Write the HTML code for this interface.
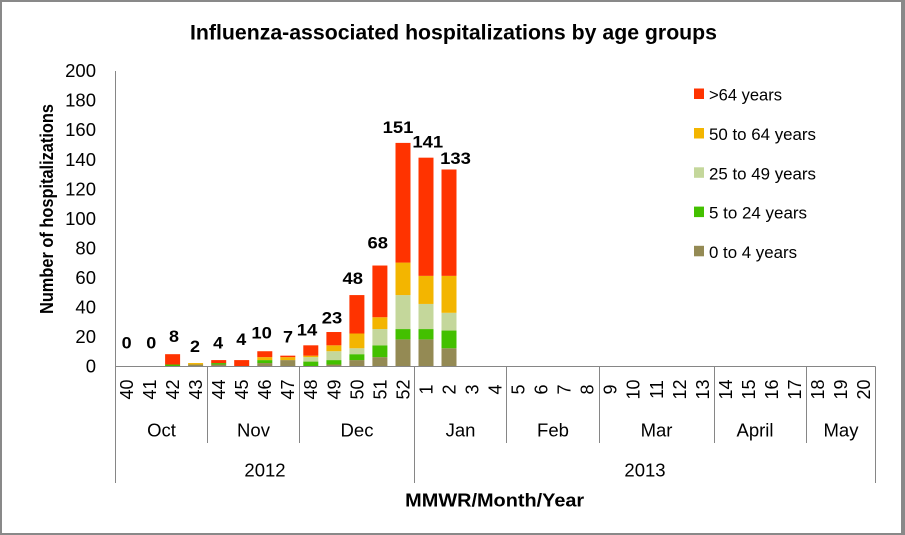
<!DOCTYPE html>
<html>
<head>
<meta charset="utf-8">
<style>
  html,body{margin:0;padding:0;background:#fff;}
  svg{display:block;}
  text{font-family:"Liberation Sans", sans-serif; fill:#000;}
</style>
</head>
<body>
<svg width="905" height="535" viewBox="0 0 905 535" xmlns="http://www.w3.org/2000/svg">
  <!-- border -->
  <rect x="0" y="0" width="905" height="535" fill="#898989"/>
  <rect x="2" y="2" width="899" height="531" fill="#ffffff"/>

  <!-- title -->
  <text x="190" y="39.5" font-size="21" font-weight="bold" textLength="527" lengthAdjust="spacingAndGlyphs">Influenza-associated hospitalizations by age groups</text>

  <!-- y axis title -->
  <text transform="translate(53,209) rotate(-90)" text-anchor="middle" font-size="18" font-weight="bold" textLength="210" lengthAdjust="spacingAndGlyphs">Number of hospitalizations</text>

  <!-- y tick labels -->
  <g font-size="18.5" text-anchor="end">
    <text x="96" y="77.1">200</text>
    <text x="96" y="106.7">180</text>
    <text x="96" y="136.2">160</text>
    <text x="96" y="165.8">140</text>
    <text x="96" y="195.3">120</text>
    <text x="96" y="224.9">100</text>
    <text x="96" y="254.4">80</text>
    <text x="96" y="284.0">60</text>
    <text x="96" y="313.5">40</text>
    <text x="96" y="343.1">20</text>
    <text x="96" y="372.6">0</text>
  </g>

  <!-- axes -->
  <g stroke="#868686" stroke-width="1" fill="none">
    <line x1="115.5" y1="71" x2="115.5" y2="483"/>
    <line x1="115" y1="366.5" x2="875.5" y2="366.5"/>
    <line x1="875.5" y1="366.5" x2="875.5" y2="483"/>
    <line x1="414.5" y1="366.5" x2="414.5" y2="483"/>
    <line x1="207.5" y1="366.5" x2="207.5" y2="443"/>
    <line x1="299.5" y1="366.5" x2="299.5" y2="443"/>
    <line x1="506.5" y1="366.5" x2="506.5" y2="443"/>
    <line x1="599.5" y1="366.5" x2="599.5" y2="443"/>
    <line x1="714.5" y1="366.5" x2="714.5" y2="443"/>
    <line x1="806.5" y1="366.5" x2="806.5" y2="443"/>
  </g>

  <!-- bars -->
  <g>
    <!-- 42 -->
    <rect x="165.1" y="364.52" width="15" height="1.48" fill="#43C000"/>
    <rect x="165.1" y="354.18" width="15" height="10.34" fill="#FF3300"/>
    <!-- 43 -->
    <rect x="188.1" y="364.52" width="15" height="1.48" fill="#948A54"/>
    <rect x="188.1" y="363.05" width="15" height="1.48" fill="#F3B500"/>
    <!-- 44 -->
    <rect x="211.2" y="364.52" width="15" height="1.48" fill="#948A54"/>
    <rect x="211.2" y="363.05" width="15" height="1.48" fill="#43C000"/>
    <rect x="211.2" y="360.09" width="15" height="2.96" fill="#FF3300"/>
    <!-- 45 -->
    <rect x="234.2" y="360.09" width="15" height="5.91" fill="#FF3300"/>
    <!-- 46 -->
    <rect x="257.3" y="363.05" width="15" height="2.95" fill="#948A54"/>
    <rect x="257.3" y="360.09" width="15" height="2.96" fill="#43C000"/>
    <rect x="257.3" y="357.14" width="15" height="2.95" fill="#F3B500"/>
    <rect x="257.3" y="351.23" width="15" height="5.91" fill="#FF3300"/>
    <!-- 47 -->
    <rect x="280.3" y="360.09" width="15" height="5.91" fill="#948A54"/>
    <rect x="280.3" y="357.14" width="15" height="2.95" fill="#F3B500"/>
    <rect x="280.3" y="355.66" width="15" height="1.48" fill="#FF3300"/>
    <!-- 48 -->
    <rect x="303.3" y="361.57" width="15" height="4.43" fill="#43C000"/>
    <rect x="303.3" y="357.14" width="15" height="4.43" fill="#C4D79B"/>
    <rect x="303.3" y="355.66" width="15" height="1.48" fill="#F3B500"/>
    <rect x="303.3" y="345.32" width="15" height="10.34" fill="#FF3300"/>
    <!-- 49 -->
    <rect x="326.4" y="364.52" width="15" height="1.48" fill="#948A54"/>
    <rect x="326.4" y="360.09" width="15" height="4.43" fill="#43C000"/>
    <rect x="326.4" y="351.23" width="15" height="8.86" fill="#C4D79B"/>
    <rect x="326.4" y="345.32" width="15" height="5.91" fill="#F3B500"/>
    <rect x="326.4" y="332.02" width="15" height="13.3" fill="#FF3300"/>
    <!-- 50 -->
    <rect x="349.4" y="360.09" width="15" height="5.91" fill="#948A54"/>
    <rect x="349.4" y="354.18" width="15" height="5.91" fill="#43C000"/>
    <rect x="349.4" y="348.27" width="15" height="5.91" fill="#C4D79B"/>
    <rect x="349.4" y="333.5" width="15" height="14.77" fill="#F3B500"/>
    <rect x="349.4" y="295.08" width="15" height="38.42" fill="#FF3300"/>
    <!-- 51 -->
    <rect x="372.4" y="357.14" width="15" height="8.86" fill="#948A54"/>
    <rect x="372.4" y="345.32" width="15" height="11.82" fill="#43C000"/>
    <rect x="372.4" y="329.06" width="15" height="16.26" fill="#C4D79B"/>
    <rect x="372.4" y="317.24" width="15" height="11.82" fill="#F3B500"/>
    <rect x="372.4" y="265.53" width="15" height="51.71" fill="#FF3300"/>
    <!-- 52 -->
    <rect x="395.5" y="339.4" width="15" height="26.6" fill="#948A54"/>
    <rect x="395.5" y="329.06" width="15" height="10.34" fill="#43C000"/>
    <rect x="395.5" y="295.08" width="15" height="33.98" fill="#C4D79B"/>
    <rect x="395.5" y="262.58" width="15" height="32.5" fill="#F3B500"/>
    <rect x="395.5" y="142.9" width="15" height="119.68" fill="#FF3300"/>
    <!-- 1 -->
    <rect x="418.5" y="339.4" width="15" height="26.6" fill="#948A54"/>
    <rect x="418.5" y="329.06" width="15" height="10.34" fill="#43C000"/>
    <rect x="418.5" y="303.95" width="15" height="25.11" fill="#C4D79B"/>
    <rect x="418.5" y="275.87" width="15" height="28.08" fill="#F3B500"/>
    <rect x="418.5" y="157.67" width="15" height="118.2" fill="#FF3300"/>
    <!-- 2 -->
    <rect x="441.5" y="348.27" width="15" height="17.73" fill="#948A54"/>
    <rect x="441.5" y="330.54" width="15" height="17.73" fill="#43C000"/>
    <rect x="441.5" y="312.81" width="15" height="17.73" fill="#C4D79B"/>
    <rect x="441.5" y="275.87" width="15" height="36.94" fill="#F3B500"/>
    <rect x="441.5" y="169.49" width="15" height="106.38" fill="#FF3300"/>
  </g>

  <!-- data labels -->
  <g font-size="17" font-weight="bold" text-anchor="middle">
    <text x="126.7" y="348.4" textLength="10" lengthAdjust="spacingAndGlyphs">0</text>
    <text x="151.3" y="348.4" textLength="10" lengthAdjust="spacingAndGlyphs">0</text>
    <text x="174" y="341.9" textLength="10" lengthAdjust="spacingAndGlyphs">8</text>
    <text x="195" y="351.9" textLength="10" lengthAdjust="spacingAndGlyphs">2</text>
    <text x="218.2" y="348.4" textLength="10" lengthAdjust="spacingAndGlyphs">4</text>
    <text x="241.3" y="344.9" textLength="10" lengthAdjust="spacingAndGlyphs">4</text>
    <text x="261.7" y="338.6" textLength="20.5" lengthAdjust="spacingAndGlyphs">10</text>
    <text x="288" y="342.6" textLength="10" lengthAdjust="spacingAndGlyphs">7</text>
    <text x="307" y="335.4" textLength="20.5" lengthAdjust="spacingAndGlyphs">14</text>
    <text x="332" y="323.7" textLength="20.5" lengthAdjust="spacingAndGlyphs">23</text>
    <text x="352.8" y="284.2" textLength="20.5" lengthAdjust="spacingAndGlyphs">48</text>
    <text x="377.8" y="248.4" textLength="20.5" lengthAdjust="spacingAndGlyphs">68</text>
    <text x="398" y="133.1" textLength="30.8" lengthAdjust="spacingAndGlyphs">151</text>
    <text x="427.8" y="147.6" textLength="30.8" lengthAdjust="spacingAndGlyphs">141</text>
    <text x="455.5" y="164.2" textLength="30.8" lengthAdjust="spacingAndGlyphs">133</text>
  </g>

  <!-- week labels (rotated) -->
  <g font-size="18" text-anchor="middle">
    <text transform="translate(126.5,389.5) rotate(-90)" y="6.4">40</text>
    <text transform="translate(149.6,389.5) rotate(-90)" y="6.4">41</text>
    <text transform="translate(172.6,389.5) rotate(-90)" y="6.4">42</text>
    <text transform="translate(195.6,389.5) rotate(-90)" y="6.4">43</text>
    <text transform="translate(218.7,389.5) rotate(-90)" y="6.4">44</text>
    <text transform="translate(241.7,389.5) rotate(-90)" y="6.4">45</text>
    <text transform="translate(264.8,389.5) rotate(-90)" y="6.4">46</text>
    <text transform="translate(287.8,389.5) rotate(-90)" y="6.4">47</text>
    <text transform="translate(310.8,389.5) rotate(-90)" y="6.4">48</text>
    <text transform="translate(333.9,389.5) rotate(-90)" y="6.4">49</text>
    <text transform="translate(356.9,389.5) rotate(-90)" y="6.4">50</text>
    <text transform="translate(379.9,389.5) rotate(-90)" y="6.4">51</text>
    <text transform="translate(403.0,389.5) rotate(-90)" y="6.4">52</text>
    <text transform="translate(426.0,389.5) rotate(-90)" y="6.4">1</text>
    <text transform="translate(449.0,389.5) rotate(-90)" y="6.4">2</text>
    <text transform="translate(472.1,389.5) rotate(-90)" y="6.4">3</text>
    <text transform="translate(495.1,389.5) rotate(-90)" y="6.4">4</text>
    <text transform="translate(518.1,389.5) rotate(-90)" y="6.4">5</text>
    <text transform="translate(541.2,389.5) rotate(-90)" y="6.4">6</text>
    <text transform="translate(564.2,389.5) rotate(-90)" y="6.4">7</text>
    <text transform="translate(587.3,389.5) rotate(-90)" y="6.4">8</text>
    <text transform="translate(610.3,389.5) rotate(-90)" y="6.4">9</text>
    <text transform="translate(633.3,389.5) rotate(-90)" y="6.4">10</text>
    <text transform="translate(656.4,389.5) rotate(-90)" y="6.4">11</text>
    <text transform="translate(679.4,389.5) rotate(-90)" y="6.4">12</text>
    <text transform="translate(702.4,389.5) rotate(-90)" y="6.4">13</text>
    <text transform="translate(725.5,389.5) rotate(-90)" y="6.4">14</text>
    <text transform="translate(748.5,389.5) rotate(-90)" y="6.4">15</text>
    <text transform="translate(771.5,389.5) rotate(-90)" y="6.4">16</text>
    <text transform="translate(794.6,389.5) rotate(-90)" y="6.4">17</text>
    <text transform="translate(817.6,389.5) rotate(-90)" y="6.4">18</text>
    <text transform="translate(840.6,389.5) rotate(-90)" y="6.4">19</text>
    <text transform="translate(863.7,389.5) rotate(-90)" y="6.4">20</text>
  </g>

  <!-- month labels -->
  <g font-size="18.5" text-anchor="middle">
    <text x="161.5" y="436.7">Oct</text>
    <text x="253.5" y="436.7">Nov</text>
    <text x="357" y="436.7">Dec</text>
    <text x="460.5" y="436.7">Jan</text>
    <text x="553" y="436.7">Feb</text>
    <text x="656.5" y="436.7">Mar</text>
    <text x="755" y="436.7">April</text>
    <text x="841" y="436.7">May</text>
    <text x="265" y="476.5">2012</text>
    <text x="645" y="476.5">2013</text>
  </g>

  <!-- x axis title -->
  <text x="494.7" y="506.7" font-size="18.5" font-weight="bold" text-anchor="middle" textLength="179" lengthAdjust="spacingAndGlyphs">MMWR/Month/Year</text>

  <!-- legend -->
  <g font-size="16.7">
    <rect x="694" y="88.5" width="10" height="10.5" fill="#FF3300"/>
    <text x="709" y="100.5" textLength="73" lengthAdjust="spacingAndGlyphs">&gt;64 years</text>
    <rect x="694" y="128" width="10" height="10.5" fill="#F3B500"/>
    <text x="709" y="140" textLength="107" lengthAdjust="spacingAndGlyphs">50 to 64 years</text>
    <rect x="694" y="167.3" width="10" height="10.5" fill="#C4D79B"/>
    <text x="709" y="179.3" textLength="107" lengthAdjust="spacingAndGlyphs">25 to 49 years</text>
    <rect x="694" y="206.6" width="10" height="10.5" fill="#43C000"/>
    <text x="709" y="218.6" textLength="98" lengthAdjust="spacingAndGlyphs">5 to 24 years</text>
    <rect x="694" y="245.8" width="10" height="10.5" fill="#948A54"/>
    <text x="709" y="257.8" textLength="88" lengthAdjust="spacingAndGlyphs">0 to 4 years</text>
  </g>
</svg>
</body>
</html>
